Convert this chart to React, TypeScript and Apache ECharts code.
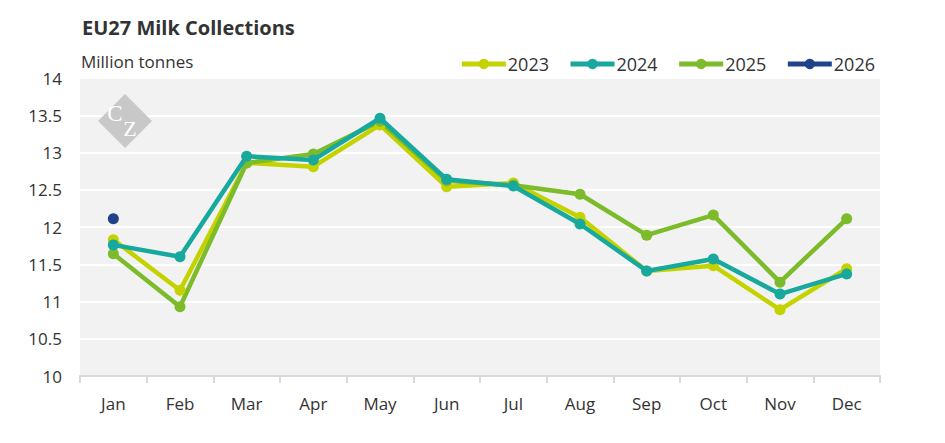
import React, { useEffect, useRef } from "react";
import * as echarts from "echarts";

const months = ["Jan", "Feb", "Mar", "Apr", "May", "Jun", "Jul", "Aug", "Sep", "Oct", "Nov", "Dec"];
const y2023 = [11.83, 11.15, 12.86, 12.81, 13.37, 12.54, 12.59, 12.13, 11.41, 11.48, 10.89, 11.44];
const y2024 = [11.76, 11.6, 12.95, 12.9, 13.46, 12.64, 12.55, 12.04, 11.41, 11.57, 11.1, 11.37];
const y2025 = [11.64, 10.93, 12.86, 12.98, 13.42, 12.62, 12.56, 12.44, 11.89, 12.16, 11.26, 12.11];
const y2026 = [12.11, null, null, null, null, null, null, null, null, null, null, null];
const seriesNames = ["2023", "2024", "2025", "2026"];
const colors = ["#c4d300", "#17a99e", "#7cbb2a", "#1f428a"];

export default function App() {
  const ref = useRef<HTMLDivElement>(null);
  useEffect(() => {
    const chart = echarts.init(ref.current!, null, { renderer: "svg" });
    const data = [y2023, y2024, y2025, y2026];
    const font = "'Open Sans', sans-serif";
    chart.setOption({
      animation: false,
      color: colors,
      title: {
        text: "EU27 Milk Collections",
        left: 69,
        top: 4,
        textStyle: { fontFamily: font, fontWeight: "bold", fontSize: 20, color: "#333" },
      },
      legend: {
        data: seriesNames,
        right: 57,
        top: 42,
        itemWidth: 44,
        itemHeight: 13,
        itemGap: 19,
        lineStyle: { width: 5 },
        textStyle: { fontFamily: font, fontSize: 18, color: "#333", padding: [0, 0, 0, -3] },
      },
      grid: { left: 72, right: 57, top: 70, bottom: 59, backgroundColor: "#f2f2f2", show: true, borderWidth: 0 },
      xAxis: {
        type: "category",
        data: months,
        boundaryGap: true,
        axisLine: { lineStyle: { color: "#d9d9d9", width: 2 } },
        axisTick: { show: true, length: 7, lineStyle: { color: "#d9d9d9", width: 2 } },
        axisLabel: { fontFamily: font, fontSize: 17, color: "#333", margin: 19 },
      },
      yAxis: {
        type: "value",
        min: 10,
        max: 14,
        interval: 0.5,
        name: "Million tonnes",
        nameLocation: "end",
        nameGap: 8,
        nameTextStyle: { fontFamily: font, fontSize: 17, color: "#333", align: "left", padding: [0, 0, 0, 1] },
        axisLine: { show: false },
        axisTick: { show: false },
        splitLine: { lineStyle: { color: "#ffffff", width: 2 } },
        axisLabel: { fontFamily: font, fontSize: 17, color: "#333", margin: 18 },
      },
      graphic: [
        {
          type: "polygon",
          shape: { points: [[117, 86], [144, 113], [117, 140], [90, 113]] },
          style: { fill: "#c8c8c8" },
          z: 1,
        },
        {
          type: "text",
          x: 107,
          y: 105,
          style: { text: "C", fontFamily: "'Liberation Serif', serif", fontSize: 23, fill: "#fff", align: "center", verticalAlign: "middle" },
          z: 2,
        },
        {
          type: "text",
          x: 122,
          y: 120,
          style: { text: "Z", fontFamily: "'Liberation Serif', serif", fontSize: 22, fill: "#fff", align: "center", verticalAlign: "middle" },
          z: 2,
        },
      ],
      series: seriesNames.map((name, i) => ({
        name,
        type: "line",
        data: data[i],
        symbol: "circle",
        symbolSize: 11,
        lineStyle: { width: 4.5 },
        itemStyle: { color: colors[i] },
        z: i === 3 ? 10 : 2 + (i === 1 ? 1 : 0),
      })),
    });
    return () => chart.dispose();
  }, []);
  return <div ref={ref} style={{ width: 929, height: 427 }} />;
}
